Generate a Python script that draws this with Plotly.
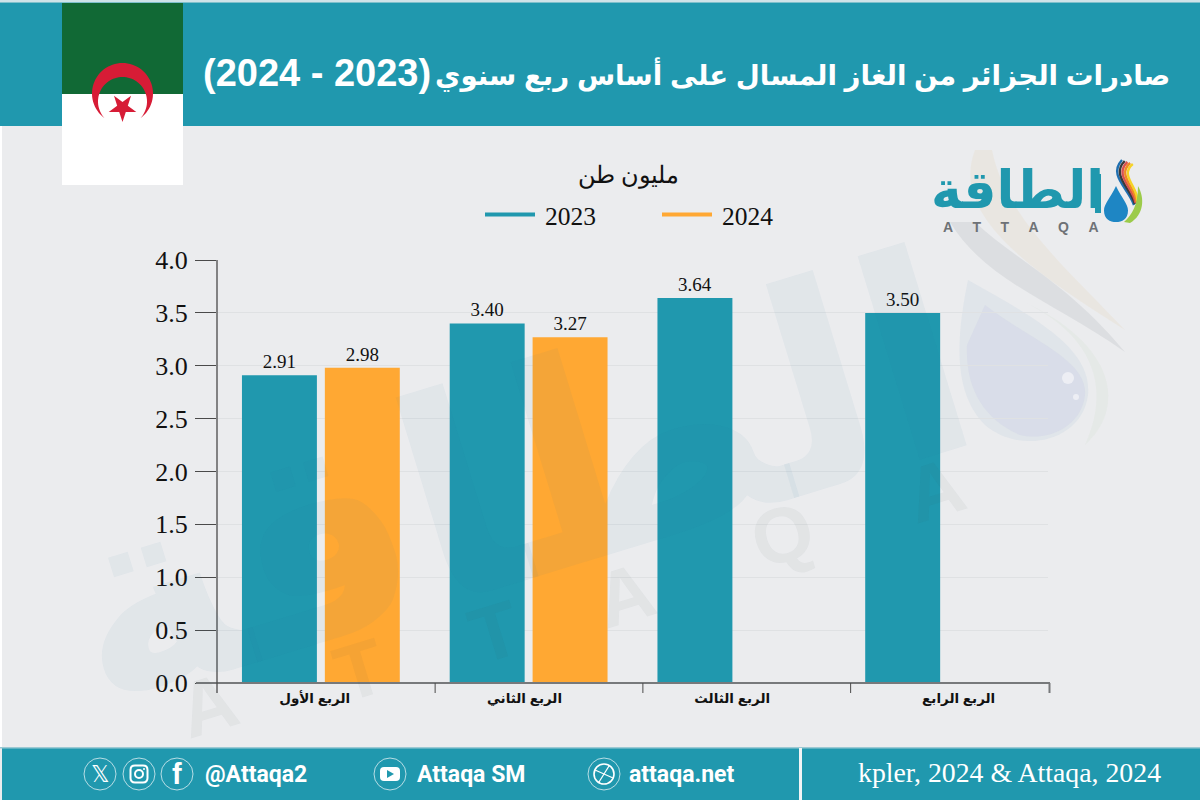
import math
import plotly.graph_objects as go

# ---- data ----
quarters = ["الربع الأول", "الربع الثاني", "الربع الثالث", "الربع الرابع"]
values_2023 = [2.91, 3.40, 3.64, 3.50]
values_2024 = [2.98, 3.27, None, None]
y_ticks = [0, 0.5, 1, 1.5, 2, 2.5, 3, 3.5, 4]
y_tick_text = ["0.0", "0.5", "1.0", "1.5", "2.0", "2.5", "3.0", "3.5", "4.0"]
label_pos = [-0.03, 0.98, 1.98, 3.07]
boundary_ticks = [0.55, 1.55, 2.55]
title_words = "صادرات الجزائر من الغاز المسال على أساس ربع سنوي"
title_years = "(2024 - 2023)"
unit_text = "مليون طن"
source_text = "kpler, 2024 & Attaqa, 2024"

TEAL = "#2098AE"
ORANGE = "#FFA833"
BG = "#EBECEE"
SERIF = "Liberation Serif, DejaVu Serif, serif"
SANS = "Liberation Sans, DejaVu Sans, sans-serif"
L, R, T, B = 217, 1048, 260, 683

def px(x): return (x - L) / (R - L)
def py(y): return (B - y) / (B - T)

shapes = []
anns = []

def rect(x0, y0, x1, y1, fill, layer="below"):
    shapes.append(dict(type="rect", xref="paper", yref="paper", x0=px(x0), x1=px(x1), y0=py(y0), y1=py(y1),
                       fillcolor=fill, line=dict(width=0), layer=layer))

def poly(points, fill, layer="below"):
    d = "M " + " L ".join(f"{px(a):.5f},{py(b):.5f}" for a, b in points) + " Z"
    shapes.append(dict(type="path", xref="paper", yref="paper", path=d, fillcolor=fill,
                       line=dict(width=0), layer=layer))

def curve(cmds, fill, layer="below", line_w=0, line_c=None, close=True):
    out = []
    for c, pts in cmds:
        out.append(c + " " + " ".join(f"{px(a):.5f},{py(b):.5f}" for a, b in pts))
    d = " ".join(out) + (" Z" if close else "")
    shapes.append(dict(type="path", xref="paper", yref="paper", path=d, fillcolor=fill,
                       line=dict(width=line_w, color=line_c or "rgba(0,0,0,0)"), layer=layer))

def rrect(x0, y0, x1, y1, r, fill="rgba(0,0,0,0)", line_w=0, line_c=None, layer="above"):
    curve([("M", [(x0 + r, y0)]), ("L", [(x1 - r, y0)]), ("Q", [(x1, y0), (x1, y0 + r)]),
           ("L", [(x1, y1 - r)]), ("Q", [(x1, y1), (x1 - r, y1)]), ("L", [(x0 + r, y1)]),
           ("Q", [(x0, y1), (x0, y1 - r)]), ("L", [(x0, y0 + r)]), ("Q", [(x0, y0), (x0 + r, y0)])],
          fill, layer, line_w, line_c)

def circle(cx, cy, r, fill="rgba(0,0,0,0)", line=None, lw=0, layer="above"):
    shapes.append(dict(type="circle", xref="paper", yref="paper", x0=px(cx - r), x1=px(cx + r), y0=py(cy + r), y1=py(cy - r),
                       fillcolor=fill, line=dict(width=lw, color=line or "rgba(0,0,0,0)"), layer=layer))

def rule(x0, y0, x1, y1, color, w):
    shapes.append(dict(type="line", xref="paper", yref="paper", x0=px(x0), x1=px(x1), y0=py(y0), y1=py(y1),
                       line=dict(color=color, width=w), layer="above"))

def text(x, y, s, size, color, font=SANS, anchor="center", angle=0):
    anns.append(dict(xref="paper", yref="paper", x=px(x), y=py(y), text=s, showarrow=False, xanchor=anchor, yanchor="middle",
                     textangle=angle, font=dict(size=size, color=color, family=font), align="center"))

def drop(cx, top, bottom, hw, fill, layer="below"):
    h = bottom - top
    curve([("M", [(cx, top)]),
           ("C", [(cx - hw * .5, top + h * .35), (cx - hw, top + h * .5), (cx - hw, top + h * .68)]),
           ("C", [(cx - hw, bottom - h * .08), (cx - hw * .5, bottom), (cx, bottom)]),
           ("C", [(cx + hw * .5, bottom), (cx + hw, bottom - h * .08), (cx + hw, top + h * .68)]),
           ("C", [(cx + hw, top + h * .5), (cx + hw * .5, top + h * .35), (cx, top)])],
          fill, layer)

# ---- page furniture ----
rect(0, 0, 1200, 2.5, "#CFE3E8")
rect(0, 2.5, 1200, 126, TEAL)
rect(0, 126, 2, 748, "#FFFFFF")
rect(2, 748, 1200, 800, TEAL)
rect(0, 747, 1200, 748.5, "#9CC9D3")
rect(799, 748, 802, 800, "#F2F4F5")

# flag
rect(62, 3, 183, 94, "#116935")
rect(62, 94, 183, 185, "#FFFFFF")
ocx, ocy, orad = 122.5, 93.5, 30.5
icx, icy, irad = 122.5, 101.5, 24.5
d = icy - ocy
a = (orad**2 - irad**2 + d**2) / (2 * d)
phi_o = math.asin(a / orad)
phi_i = math.asin((a - d) / irad)
pts = []
for k in range(61):
    t = math.pi - phi_o + (math.pi + 2 * phi_o) * k / 60
    pts.append((ocx + orad * math.cos(t), ocy + orad * math.sin(t)))
for k in range(61):
    t = phi_i - (math.pi + 2 * phi_i) * k / 60
    pts.append((icx + irad * math.cos(t), icy + irad * math.sin(t)))
poly(pts, "#D71C36")
star = []
for k in range(10):
    ang = math.radians(90 + 36 * k)
    r = 14.5 if k % 2 == 0 else 5.6
    star.append((122.5 + r * math.cos(ang), 107.5 + r * math.sin(ang)))
poly(star, "#D71C36")

# faint watermark drop and swooshes on the right
curve([("M", [(975, 150)]), ("C", [(950, 215), (1030, 270), (1125, 330)]),
       ("C", [(1060, 262), (1005, 215), (992, 150)])], "rgba(225,195,150,0.14)")
curve([("M", [(950, 222)]), ("C", [(985, 280), (1050, 300), (1125, 352)]),
       ("C", [(1065, 280), (1012, 258), (975, 222)])], "rgba(120,130,140,0.13)")
curve([("M", [(1020, 300)]), ("C", [(1085, 330), (1115, 380), (1085, 445)]),
       ("C", [(1125, 410), (1120, 345), (1020, 300)])], "rgba(190,215,180,0.12)")
curve([("M", [(968, 280)]), ("C", [(958, 330), (950, 390), (985, 425)]),
       ("C", [(1020, 455), (1082, 442), (1088, 395)]), ("C", [(1092, 350), (1040, 320), (968, 280)])],
      "rgba(200,212,224,0.30)")
curve([("M", [(967, 345)]), ("C", [(965, 390), (985, 420), (1020, 435)]),
       ("C", [(1050, 442), (1082, 425), (1085, 395)]), ("C", [(1088, 360), (1030, 340), (985, 305)])],
      "rgba(210,214,232,0.50)")
circle(1068, 378, 6, fill="rgba(250,250,252,0.6)", layer="below")
circle(1076, 397, 3, fill="rgba(250,250,252,0.6)", layer="below")

# logo
swoosh_cols = ["#1F6FB0", "#3A3A3A", "#D9534F", "#F08A24", "#F5D327"]
for i, c in enumerate(swoosh_cols):
    dx = i * 2.7
    curve([("M", [(1122 + dx, 160 + i)]),
           ("C", [(1108 + dx, 175), (1128 + dx, 188), (1134 + dx * .3, 205 - i)])],
          "rgba(0,0,0,0)", line_w=2.4, line_c=c, layer="above", close=False)
curve([("M", [(1130, 223)]), ("C", [(1144, 215), (1145, 198), (1138, 186)]),
       ("C", [(1138, 205), (1132, 215), (1124, 222)])], "#9CCB4A", layer="above")
drop(1116, 186, 222, 12, "#1E86C4", layer="above")
text(1017, 190, "<b>الطاقة</b>", 52, TEAL, "DejaVu Sans")
rect(1095, 174, 1101, 213, TEAL, layer="above")
text(1021, 227, "<b>" + "\u00a0\u00a0\u00a0\u00a0\u00a0".join("ATTAQA") + "</b>", 14, "#6E7276", "Liberation Sans")

# big rotated watermark
text(515, 482, "<b>الطاقة</b>", 280, "rgba(40,115,150,0.052)", "DejaVu Sans", angle=-17)
for wx, wy, ch in [(208, 705, "A"), (360, 670, "T"), (495, 632, "T"), (625, 595, "A"), (782, 535, "Q"), (935, 490, "A")]:
    text(wx, wy, "<b>" + ch + "</b>", 78, "rgba(60,70,85,0.05)", "Liberation Sans", angle=-17)

# chart rules that the category axis cannot draw at these positions
rule(196, B, 1050, B, "#77797B", 2)
rule(217, 693, 217, T, "#4A4A4A", 1.3)
rule(1049.5, B, 1049.5, 693, "#77797B", 2)
for b in boundary_ticks:
    shapes.append(dict(type="line", xref="x", yref="paper", x0=b, x1=b, y0=0, y1=py(693),
                       line=dict(color="#4A4A4A", width=1), layer="above"))

# header / unit text
text(1172, 74, "<b>" + title_words + "</b>", 27.7, "#FFFFFF", SANS, anchor="right")
text(317, 73, "<b>\u202d" + title_years + "\u202c</b>", 38, "#FFFFFF", SANS)
text(628, 176, unit_text, 24, "#111111", SERIF)

# footer
for cx in [100, 139, 177, 390, 604]:
    circle(cx, 774, 16, line="#DDEFF3", lw=0.8)
text(100, 774, "𝕏", 23, "#FFFFFF", "DejaVu Sans")
rrect(130.5, 765.5, 147.5, 782.5, 4.5, line_w=2, line_c="#FFFFFF")
circle(139, 774, 4, line="#FFFFFF", lw=2)
circle(144, 769, 1, fill="#FFFFFF")
text(177, 774, "<b>f</b>", 29, "#FFFFFF", "Liberation Sans")
rrect(380, 767, 400, 781, 4, fill="#FFFFFF")
poly([(387, 770), (387, 778), (394, 774)], TEAL, layer="above")
circle(604, 774, 10, line="#FFFFFF", lw=1.6)
rule(595, 770, 613, 778, "#FFFFFF", 1.3)
rule(599, 782, 609, 766, "#FFFFFF", 1.3)
text(203, 774, "<b>@Attaqa2</b>", 23, "#FFFFFF", "Roboto", anchor="left")
text(415, 774, "<b>Attaqa SM</b>", 23, "#FFFFFF", "Roboto", anchor="left")
text(627, 774, "<b>attaqa.net</b>", 23, "#FFFFFF", "Roboto", anchor="left")
text(1009, 772, source_text, 27.8, "#FFFFFF", SERIF)

# ---- traces ----
fig = go.Figure()
fig.add_trace(go.Bar(x=quarters, y=values_2023, marker=dict(color=TEAL, line_width=0), showlegend=False,
                     texttemplate="%{y:.2f}", textposition="outside", cliponaxis=False,
                     textfont=dict(family=SERIF, size=19, color="#111111")))
fig.add_trace(go.Bar(x=quarters, y=values_2024, marker=dict(color=ORANGE, line_width=0), showlegend=False,
                     texttemplate="%{y:.2f}", textposition="outside", cliponaxis=False,
                     textfont=dict(family=SERIF, size=19, color="#111111")))
fig.add_trace(go.Scatter(x=[None], y=[None], mode="lines", name="\u20092023", line=dict(color=TEAL, width=4)))
fig.add_trace(go.Scatter(x=[None], y=[None], mode="lines", name="\u20092024", line=dict(color=ORANGE, width=4)))

fig.update_layout(
    width=1200, height=800, autosize=False,
    margin=dict(l=L, r=1200 - R, t=T, b=800 - B, pad=0),
    paper_bgcolor=BG, plot_bgcolor="rgba(0,0,0,0)",
    barmode="group", bargap=0.202, bargroupgap=0.096,
    shapes=shapes, annotations=anns,
    legend=dict(orientation="h", x=px(480), y=py(215), xanchor="left", yanchor="middle",
                itemwidth=50, entrywidth=112, entrywidthmode="pixels", traceorder="normal",
                font=dict(family=SERIF, size=25.5, color="#111111"), bgcolor="rgba(0,0,0,0)"),
    font=dict(family=SERIF),
    xaxis=dict(type="category", categoryorder="array", categoryarray=quarters, range=[-0.5, 3.5],
               tickmode="array", tickvals=label_pos,
               ticktext=["<b>" + q + "</b>" for q in quarters], ticks="", showgrid=False, showline=False, zeroline=False,
               ticklabelstandoff=5, tickfont=dict(family=SANS, size=13.5, color="#111111")),
    yaxis=dict(range=[0, 4], tickmode="array", tickvals=y_ticks, ticktext=y_tick_text,
               ticks="outside", ticklen=21, tickwidth=1.3, tickcolor="#4A4A4A",
               showgrid=True, gridcolor="#DFE1E3", gridwidth=1, zeroline=False, showline=False,
               tickfont=dict(family=SERIF, size=26, color="#111111"), ticklabelstandoff=2),
)
fig.write_html("out.html", post_script="document.body.style.margin='0';document.body.style.overflow='hidden';",
               config=dict(displayModeBar=False))
